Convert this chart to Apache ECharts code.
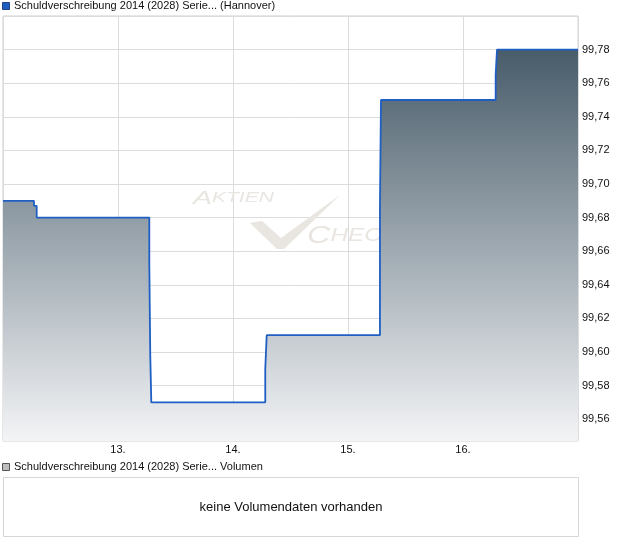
<!DOCTYPE html>
<html>
<head>
<meta charset="utf-8">
<style>
html,body{margin:0;padding:0;background:#fff;}
#chart{width:620px;height:546px;}
</style>
<script src="https://cdn.jsdelivr.net/npm/echarts@6/dist/echarts.min.js"></script>
</head>
<body>
<div id="chart"></div>
<script>
// ---- data ----
const seriesName = 'Schuldverschreibung 2014 (2028) Serie... (Hannover)';
const volumeName = 'Schuldverschreibung 2014 (2028) Serie... Volumen';
const noVolumeText = 'keine Volumendaten vorhanden';
const times = ['12 00:00','12 06:28','12 07:02','13 06:32','13 06:44','13 06:57','14 06:44','14 07:02','15 06:40','15 06:53','16 06:49','16 07:06','17 00:00'];
const prices = [99.69, 99.687, 99.68, 99.653, 99.598, 99.57, 99.59, 99.61, 99.686, 99.75, 99.765, 99.78, 99.78];
const dayTicks = [13, 14, 15, 16];
const dayLabels = ['13.', '14.', '15.', '16.'];
const xMin = 12, xMax = 17;
const yMin = 99.547, yMax = 99.80;
const yTickMin = 99.56, yTickStep = 0.02;

function toDay(s) {
  const [d, hm] = s.split(' ');
  const [h, m] = hm.split(':').map(Number);
  return Number(d) + h / 24 + m / 1440;
}
const points = times.map((t, i) => [toDay(t), prices[i]]);

const chart = echarts.init(document.getElementById('chart'), null, {renderer: 'canvas'});
const FONT = 'Liberation Sans, Arial, sans-serif';
const gridColor = '#dcdcdc';
const wm = '#e9e5e1';
const option = {
  animation: false,
  backgroundColor: '#fff',
  grid: [
    {left: 3, top: 16, right: 42, bottom: 105, show: true, borderColor: '#cfcfcf', borderWidth: 1, backgroundColor: 'transparent'},
    {left: 3, top: 16, right: 42, height: (yMax - yTickMin) / (yMax - yMin) * 425, show: false}
  ],
  xAxis: [
    {
      type: 'value', gridIndex: 0, min: xMin, max: xMax, interval: 1,
      axisLine: {show: false}, axisTick: {show: false},
      splitLine: {show: true, lineStyle: {color: gridColor, width: 1}},
      axisLabel: {
        showMinLabel: false, showMaxLabel: false, margin: 3,
        fontFamily: FONT, fontSize: 11, color: '#111',
        formatter: v => { const i = dayTicks.indexOf(Math.round(v)); return i >= 0 ? dayLabels[i] : ''; }
      }
    },
    {type: 'value', gridIndex: 1, min: 0, max: 1, show: false}
  ],
  yAxis: [
    {
      type: 'value', gridIndex: 0, min: yMin, max: yMax,
      axisLine: {show: false}, axisTick: {show: false}, axisLabel: {show: false}, splitLine: {show: false}
    },
    {
      type: 'value', gridIndex: 1, position: 'right', min: yTickMin, max: yMax, interval: yTickStep,
      axisLine: {show: false}, axisTick: {show: false},
      splitLine: {show: true, lineStyle: {color: gridColor, width: 1}},
      axisLabel: {
        showMaxLabel: false, showMinLabel: true, margin: 4,
        fontFamily: FONT, fontSize: 11, color: '#111',
        formatter: v => v.toFixed(2).replace('.', ',')
      }
    }
  ],
  graphic: [
    // top legend
    {type: 'rect', left: 2, top: 2, z: 10, shape: {width: 7, height: 7}, style: {fill: '#1f5fc4', stroke: '#23457f', lineWidth: 1}},
    {type: 'text', left: 14, top: 0, z: 10, style: {text: seriesName, font: '11px ' + FONT, fill: '#111'}},
    // watermark
    {type: 'text', x: 193, y: 208, scaleX: 1.5, z: 1, style: {text: '{a|A}{b|KTIEN}', textVerticalAlign: 'bottom', rich: {a: {font: 'italic 19px ' + FONT, fill: wm}, b: {font: 'italic 14px ' + FONT, fill: wm}}}},
    {type: 'text', x: 307, y: 248, scaleX: 1.35, z: 1, style: {text: '{a|C}{b|HECK}', textVerticalAlign: 'bottom', rich: {a: {font: 'italic 24px ' + FONT, fill: wm}, b: {font: 'italic 18px ' + FONT, fill: wm}}}},
    {type: 'polygon', z: 1, shape: {points: [[250,223],[262,221],[281,238],[340,195],[284,249],[277,249]]}, style: {fill: wm}},
    // volume panel
    {type: 'rect', left: 2, top: 463, z: 10, shape: {width: 7, height: 7}, style: {fill: '#bdbdbd', stroke: '#555', lineWidth: 1}},
    {type: 'text', left: 14, top: 461, z: 10, style: {text: volumeName, font: '11px ' + FONT, fill: '#111'}},
    {type: 'rect', z: 10, shape: {x: 3.5, y: 477.5, width: 575, height: 59}, style: {fill: '#fff', stroke: '#d6d6d6', lineWidth: 1}},
    {type: 'text', z: 11, x: 291, y: 507, style: {text: noVolumeText, font: '13px ' + FONT, fill: '#111', textAlign: 'center', textVerticalAlign: 'middle'}}
  ],
  series: [
    {
      name: seriesName, type: 'line', xAxisIndex: 0, yAxisIndex: 0, z: 3,
      data: points, step: 'end', showSymbol: false, symbol: 'none',
      lineStyle: {color: '#1f5fc4', width: 1.8},
      areaStyle: {
        origin: 'start', opacity: 1,
        color: new echarts.graphic.LinearGradient(0, 0, 0, 1, [
          {offset: 0, color: '#485c6a'},
          {offset: 1, color: '#f3f4f6'}
        ])
      }
    }
  ]
};
chart.setOption(option);
</script>
</body>
</html>
